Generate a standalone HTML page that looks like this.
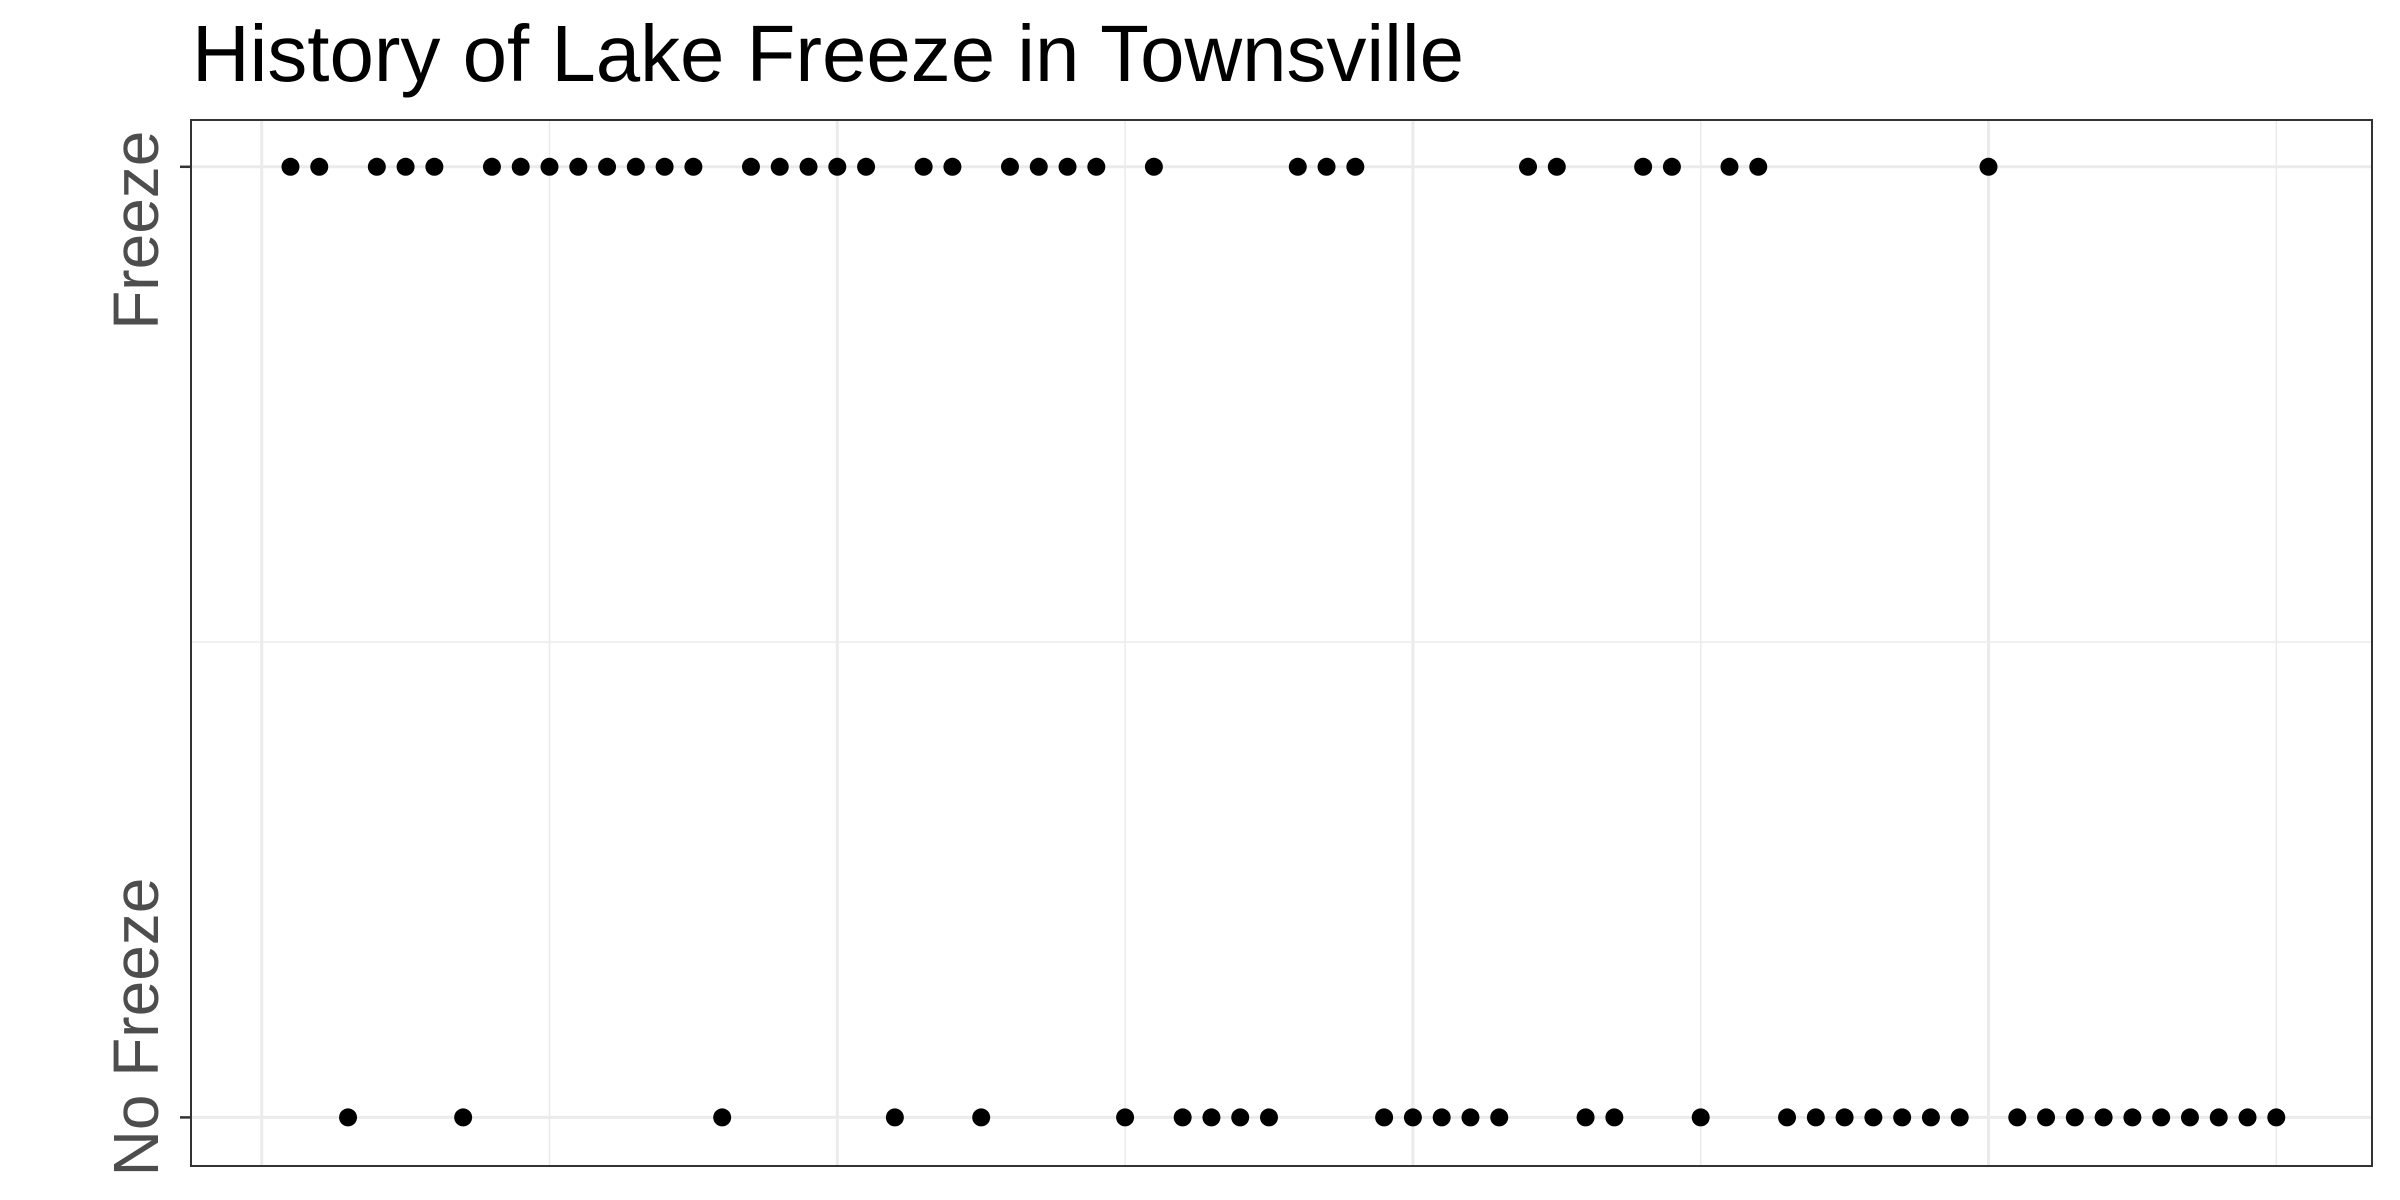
<!DOCTYPE html>
<html><head><meta charset="utf-8"><style>
html,body{margin:0;padding:0;background:#fff;overflow:hidden;}
svg{display:block;font-family:"Liberation Sans",Arial,sans-serif;}
</style></head><body>
<svg id="chart" width="2400" height="1200" viewBox="0 0 2400 1200">
<rect x="0" y="0" width="2400" height="1200" fill="#fff"/>
<text x="192" y="81" font-size="80" textLength="1272" lengthAdjust="spacingAndGlyphs" fill="#000">History of Lake Freeze in Townsville</text>
<g id="grid"></g>
<g id="ticks"></g>
<g id="points"></g>
<rect x="191" y="120" width="2181" height="1046" fill="none" stroke="#333" stroke-width="2"/>
</svg>
<script>
const years = [];
for (let y = 1951; y <= 2020; y++) years.push(y);
const freezeValues = [1,1,0,1,1,1,0,1,1,1,1,1,1,1,1,0,1,1,1,1,1,0,1,1,0,1,1,1,1,0,1,0,0,0,0,1,1,1,0,0,0,0,0,1,1,0,0,1,1,0,1,1,0,0,0,0,0,0,0,1,0,0,0,0,0,0,0,0,0,0];
const categories = ["No Freeze","Freeze"];
const xMajorTicks = [1950,1970,1990,2010];
const xMinorTicks = [1960,1980,2000,2020];

const NS = "http://www.w3.org/2000/svg";
const x = v => 261.7 + (v - 1950) * 28.78;
const y = c => 1117.4 - c * 950.6;
function mk(tag, attrs, parent){const e=document.createElementNS(NS,tag);for(const k in attrs)e.setAttribute(k,attrs[k]);parent.appendChild(e);return e;}
const grid=document.getElementById('grid'), ticks=document.getElementById('ticks'), pts=document.getElementById('points');

xMinorTicks.forEach(t=>{
  const l=mk('line',{x1:x(t),x2:x(t),y1:120,y2:1166,stroke:'#EBEBEB','stroke-width':1.5},grid);
  
  
});
xMajorTicks.forEach(t=>{
  const l=mk('line',{x1:x(t),x2:x(t),y1:120,y2:1166,stroke:'#EBEBEB','stroke-width':3},grid);
  
  
});
{
  const l=mk('line',{x1:191,x2:2372,y1:(y(0)+y(1))/2,y2:(y(0)+y(1))/2,stroke:'#EBEBEB','stroke-width':1.5},grid);
  
  
}
categories.forEach((c,i)=>{
  const g=mk('line',{x1:191,x2:2372,y1:y(i),y2:y(i),stroke:'#EBEBEB','stroke-width':3},grid);
  
  
  const t=mk('line',{x1:180,x2:191,y1:y(i),y2:y(i),stroke:'#333','stroke-width':2.5},ticks);
  
  
  const base = y(i) + (i===1 ? 163 : 59);
  const tx=mk('text',{x:0,y:0,'font-size':64,fill:'#4D4D4D','text-anchor':'start',transform:`translate(158,${base}) rotate(-90)`},ticks);
  tx.textContent=c;
  
  
});
years.forEach((yr,i)=>{
  const c=mk('circle',{cx:x(yr),cy:y(freezeValues[i]),r:9,fill:'#000'},pts);
  
  
});
</script>
</body></html>
